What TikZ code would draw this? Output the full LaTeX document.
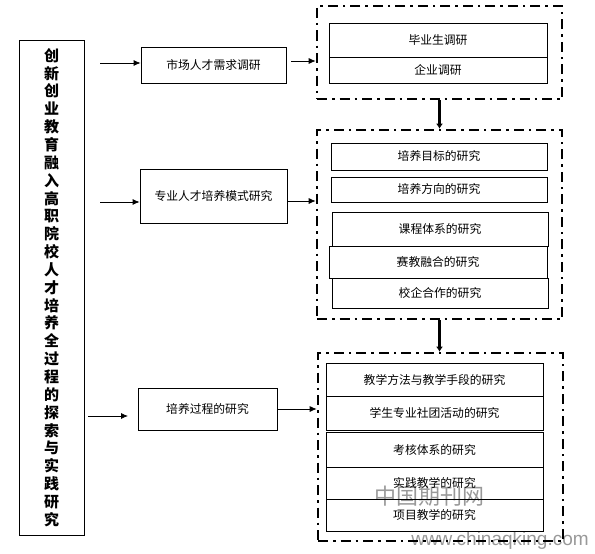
\documentclass[tikz,border=0pt]{standalone}
\usepackage{fontspec}
\setmainfont{Noto Sans CJK SC}
\newfontfamily\wmfont{Liberation Sans}
\usetikzlibrary{arrows.meta}
\begin{document}
\begin{tikzpicture}[x=1pt,y=-1pt,
  box/.style={draw,line width=0.8pt,inner sep=0pt,font=\fontsize{11.8}{14}\selectfont},
  dbox/.style={draw,line width=2.6pt,dash pattern=on 10pt off 5pt on 2.5pt off 5pt,inner sep=0pt},
  arr/.style={line width=0.8pt,-{Latex[length=7pt,width=6pt]}},
  varr/.style={line width=3.5pt,-{Latex[length=5pt,width=7pt]}},
  wm/.style={text=black!40,inner sep=0pt}]
\useasboundingbox (0,0) rectangle (595,554);
% watermark (behind)
\node[wm,font=\fontsize{22}{24}\selectfont] (wm1) at (429.5,496) {中国期刊网};
\node[wm,font=\wmfont\fontsize{19}{22}\selectfont] (wm2) at (500,541) {www.chinaqking.com};
% left column
\node[draw,line width=0.8pt,minimum width=65pt,minimum height=495pt,inner sep=0pt,align=center,
  font=\bfseries\fontsize{15}{17.85}\selectfont] (L) at (51.5,287.5)
  {创\\新\\创\\业\\教\\育\\融\\入\\高\\职\\院\\校\\人\\才\\培\\养\\全\\过\\程\\的\\探\\索\\与\\实\\践\\研\\究};
% middle boxes
\node[box,minimum width=145pt,minimum height=36pt] (b1) at (213.5,65) {市场人才需求调研};
\node[box,minimum width=147pt,minimum height=54pt] (b2) at (213.5,196) {专业人才培养模式研究};
\node[box,minimum width=139pt,minimum height=42pt] (b3) at (207.5,409) {培养过程的研究};
% dashed groups
\node[dbox,minimum width=245pt,minimum height=93pt] (d1) at (439.5,52.5) {};
\node[dbox,minimum width=245pt,minimum height=189pt] (d2) at (439.5,224.5) {};
\node[dbox,minimum width=245pt,minimum height=188pt] (d3) at (440.5,447) {};
% group 1
\node[box,minimum width=218pt,minimum height=34pt] (g1) at (438,40) {毕业生调研};
\node[box,minimum width=218pt,minimum height=26pt] (g2) at (438,70) {企业调研};
% group 2
\node[box,minimum width=216pt,minimum height=27pt] (p1) at (439,156.5) {培养目标的研究};
\node[box,minimum width=216pt,minimum height=25pt] (p2) at (439,189.5) {培养方向的研究};
\node[box,minimum width=216pt,minimum height=34pt] (p3) at (440,229) {课程体系的研究};
\node[box,minimum width=218pt,minimum height=32pt] (p4) at (438,262) {赛教融合的研究};
\node[box,minimum width=216pt,minimum height=30pt] (p5) at (440,293) {校企合作的研究};
% group 3
\node[box,minimum width=217pt,minimum height=33pt] (q1) at (434.5,379.5) {教学方法与教学手段的研究};
\node[box,minimum width=217pt,minimum height=34pt] (q2) at (434.5,413) {学生专业社团活动的研究};
\node[box,minimum width=217pt,minimum height=35pt] (q3) at (434.5,449.5) {考核体系的研究};
\node[box,minimum width=217pt,minimum height=32pt] (q4) at (434.5,483) {实践教学的研究};
\node[box,minimum width=217pt,minimum height=32pt] (q5) at (434.5,515) {项目教学的研究};
% left arrows
\coordinate (s1) at (100,63);
\coordinate (s2) at (100,202);
\coordinate (s3) at (88,416);
\coordinate (e3) at (128,416);
\draw[arr] (s1) -- (s1 -| b1.west);
\draw[arr] (s2) -- (s2 -| b2.west);
\draw[arr] (s3) -- (e3);
% right arrows
\coordinate (r1) at (291,61);
\coordinate (r2) at (288,201);
\draw[arr] (r1) -- (r1 -| d1.west);
\draw[arr] (r2) -- (r2 -| d2.west);
\draw[arr] (b3.east) -- (b3.east -| d3.west);
% vertical arrows
\draw[varr] (d1.south) -- (d2.north);
\draw[varr] (d2.south) -- (d2.south |- d3.north);
\end{tikzpicture}
\end{document}
